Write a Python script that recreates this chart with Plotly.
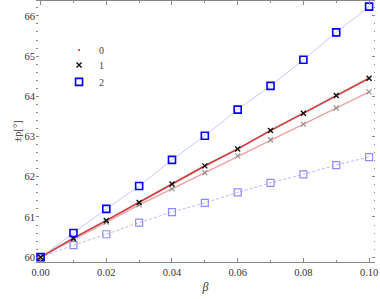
import plotly.graph_objects as go

beta = [0.00, 0.01, 0.02, 0.03, 0.04, 0.05, 0.06, 0.07, 0.08, 0.09, 0.10]
p_sq_bright = [60.0, 60.60, 61.20, 61.77, 62.42, 63.02, 63.67, 64.26, 64.91, 65.59, 66.23]
p_sq_light = [60.0, 60.30, 60.57, 60.86, 61.12, 61.35, 61.61, 61.85, 62.06, 62.29, 62.49]
p_x_dark = [60.0, 60.47, 60.91, 61.36, 61.82, 62.27, 62.69, 63.15, 63.58, 64.02, 64.45]
p_x_light = [60.0, 60.44, 60.87, 61.30, 61.70, 62.10, 62.52, 62.92, 63.31, 63.71, 64.11]
legend_names = ["0", "1", "2"]

serif = "Liberation Serif"
fig = go.Figure()

# lines
fig.add_trace(go.Scatter(x=beta, y=p_sq_light, mode="lines", cliponaxis=False,
                         line=dict(color="#b8b8ff", width=1, dash="3px,2px"), showlegend=False))
fig.add_trace(go.Scatter(x=beta, y=p_sq_bright, mode="lines", cliponaxis=False,
                         line=dict(color="#c8c8ff", width=1), showlegend=False))
fig.add_trace(go.Scatter(x=beta, y=p_x_light, mode="lines", cliponaxis=False,
                         line=dict(color="#f4a0a0", width=1.5), showlegend=False))
fig.add_trace(go.Scatter(x=beta, y=p_x_dark, mode="lines", cliponaxis=False,
                         line=dict(color="#c8c8c8", width=2.5), showlegend=False))
fig.add_trace(go.Scatter(x=beta, y=p_x_dark, mode="lines", cliponaxis=False,
                         line=dict(color="#e02020", width=1.2), showlegend=False))

# markers
fig.add_trace(go.Scatter(x=beta, y=p_sq_light, mode="markers", cliponaxis=False,
                         marker=dict(symbol="square-open", size=7, color="#8c8cff", line=dict(width=1.2)),
                         showlegend=False))
fig.add_trace(go.Scatter(x=beta, y=p_x_light, mode="markers", cliponaxis=False,
                         marker=dict(symbol="x-thin-open", size=5, color="#909090", line=dict(width=1.2, color="#909090")),
                         showlegend=False))
fig.add_trace(go.Scatter(x=beta, y=p_x_dark, mode="markers", name=legend_names[0], cliponaxis=False,
                         legend="legend",
                         marker=dict(symbol="circle", size=2, color="#e02020")))
fig.add_trace(go.Scatter(x=beta, y=p_x_dark, mode="markers", name=legend_names[1], cliponaxis=False,
                         legend="legend2",
                         marker=dict(symbol="x-thin-open", size=5, color="#111111", line=dict(width=1.4, color="#111111"))))
fig.add_trace(go.Scatter(x=beta, y=p_sq_bright, mode="markers", name=legend_names[2], cliponaxis=False,
                         legend="legend3",
                         marker=dict(symbol="square-open", size=7, color="#0000ff", line=dict(width=1.6))))

leg_common = dict(x=0.068, xanchor="left", yanchor="middle", bgcolor="rgba(0,0,0,0)",
                  font=dict(family=serif, size=10, color="#444444"), itemwidth=30)

fig.update_layout(
    width=380, height=299,
    margin=dict(l=36, r=5, t=1, b=37),
    paper_bgcolor="white", plot_bgcolor="white",
    font=dict(family=serif, size=10.5, color="#333333"),
    showlegend=True,
    legend=dict(y=0.812, **leg_common),
    legend2=dict(y=0.755, **leg_common),
    legend3=dict(y=0.690, **leg_common),
    xaxis=dict(range=[-0.0014, 0.1018], tickvals=[0, 0.02, 0.04, 0.06, 0.08, 0.10],
               ticktext=["0.00", "0.02", "0.04", "0.06", "0.08", "0.10"],
               automargin=False,
               showgrid=False, zeroline=False, showline=True, linecolor="#888888", linewidth=1,
               mirror="ticks", ticks="inside", ticklen=4, tickcolor="#888888",
               minor=dict(dtick=0.01, tick0=0, ticks="inside", ticklen=2, tickcolor="#888888"),
               title=dict(text="<i>β</i>", font=dict(family=serif, size=12, color="#333333"), standoff=6)),
    yaxis=dict(range=[59.88, 66.37], tickvals=[60, 61, 62, 63, 64, 65, 66],
               automargin=False,
               showgrid=False, zeroline=False, showline=False,
               mirror="ticks", ticks="inside", ticklen=3, tickcolor="#888888",
               minor=dict(dtick=0.2, tick0=60, ticks="inside", ticklen=1.5, tickcolor="#888888"),
               title=dict(text="±p[°]", font=dict(family=serif, size=10.5, color="#333333"), standoff=0)),
)

fig.write_html("out.html", config={"displayModeBar": False},
               post_script="document.body.style.margin='0';document.body.style.padding='0';")
